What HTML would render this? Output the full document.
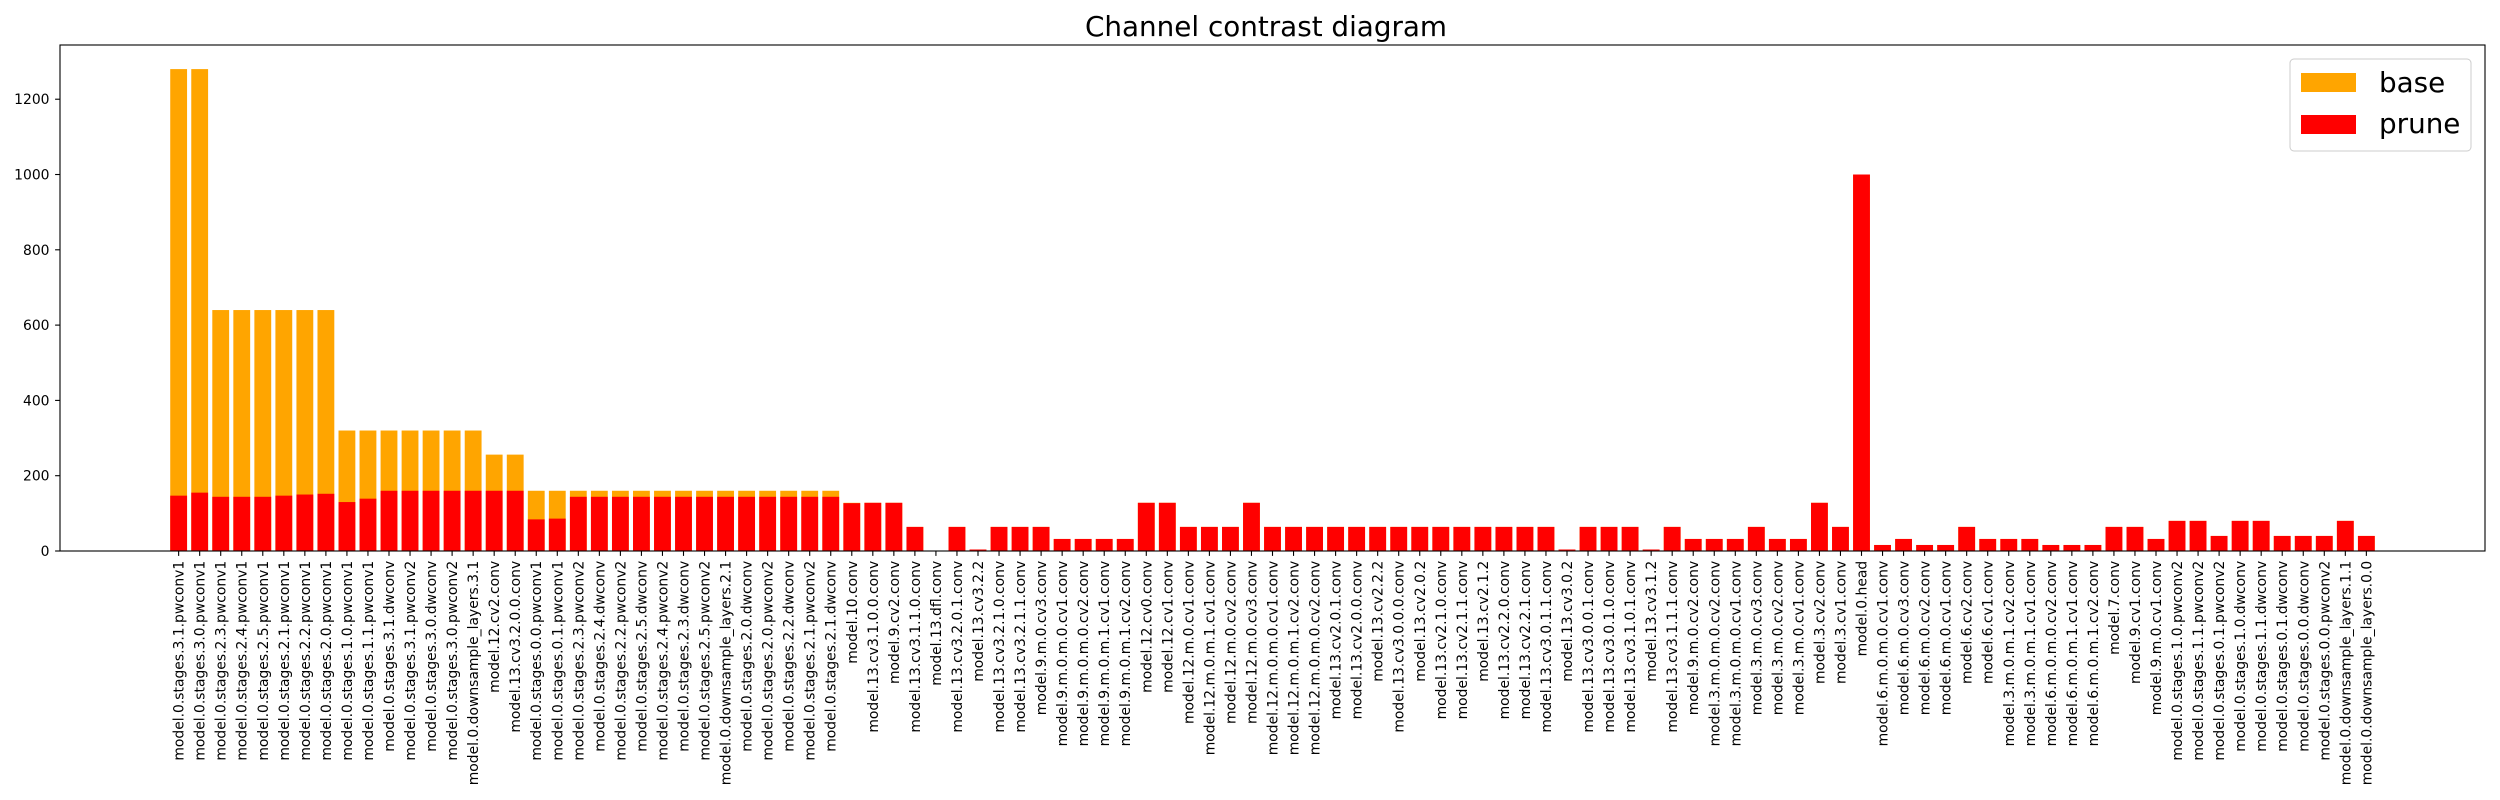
<!DOCTYPE html>
<html><head><meta charset="utf-8"><style>
html,body{margin:0;padding:0;background:#fff;}
svg{display:block;font-family:"DejaVu Sans","Liberation Sans",sans-serif;}
</style></head><body>
<svg id="chart" width="2500" height="800" viewBox="0 0 2500 800" xmlns="http://www.w3.org/2000/svg">
<rect width="2500" height="800" fill="#fff"/>
<text x="1266" y="36" font-size="27.8" text-anchor="middle" fill="#000">Channel contrast diagram</text>
<g id="bars"></g>
<g id="xticks"></g>
<g id="yticks"></g>
<rect x="60" y="45" width="2425" height="506" fill="none" stroke="#000" stroke-width="1.1"/>
<g>
<rect x="2290" y="59" width="181" height="92" rx="4" fill="#fff" fill-opacity="0.8" stroke="#ccc" stroke-width="1"/>
<rect x="2301" y="73" width="55" height="19" fill="#FFA500"/>
<text x="2379" y="92" font-size="27.8" fill="#000">base</text>
<rect x="2301" y="115" width="55" height="19" fill="#FF0000"/>
<text x="2379" y="133" font-size="27.8" fill="#000">prune</text>
</g>
</svg>
<script>
const categories = ["model.0.stages.3.1.pwconv1","model.0.stages.3.0.pwconv1","model.0.stages.2.3.pwconv1","model.0.stages.2.4.pwconv1","model.0.stages.2.5.pwconv1","model.0.stages.2.1.pwconv1","model.0.stages.2.2.pwconv1","model.0.stages.2.0.pwconv1","model.0.stages.1.0.pwconv1","model.0.stages.1.1.pwconv1","model.0.stages.3.1.dwconv","model.0.stages.3.1.pwconv2","model.0.stages.3.0.dwconv","model.0.stages.3.0.pwconv2","model.0.downsample_layers.3.1","model.12.cv2.conv","model.13.cv3.2.0.0.conv","model.0.stages.0.0.pwconv1","model.0.stages.0.1.pwconv1","model.0.stages.2.3.pwconv2","model.0.stages.2.4.dwconv","model.0.stages.2.2.pwconv2","model.0.stages.2.5.dwconv","model.0.stages.2.4.pwconv2","model.0.stages.2.3.dwconv","model.0.stages.2.5.pwconv2","model.0.downsample_layers.2.1","model.0.stages.2.0.dwconv","model.0.stages.2.0.pwconv2","model.0.stages.2.2.dwconv","model.0.stages.2.1.pwconv2","model.0.stages.2.1.dwconv","model.10.conv","model.13.cv3.1.0.0.conv","model.9.cv2.conv","model.13.cv3.1.1.0.conv","model.13.dfl.conv","model.13.cv3.2.0.1.conv","model.13.cv3.2.2","model.13.cv3.2.1.0.conv","model.13.cv3.2.1.1.conv","model.9.m.0.cv3.conv","model.9.m.0.m.0.cv1.conv","model.9.m.0.m.0.cv2.conv","model.9.m.0.m.1.cv1.conv","model.9.m.0.m.1.cv2.conv","model.12.cv0.conv","model.12.cv1.conv","model.12.m.0.cv1.conv","model.12.m.0.m.1.cv1.conv","model.12.m.0.cv2.conv","model.12.m.0.cv3.conv","model.12.m.0.m.0.cv1.conv","model.12.m.0.m.1.cv2.conv","model.12.m.0.m.0.cv2.conv","model.13.cv2.0.1.conv","model.13.cv2.0.0.conv","model.13.cv2.2.2","model.13.cv3.0.0.0.conv","model.13.cv2.0.2","model.13.cv2.1.0.conv","model.13.cv2.1.1.conv","model.13.cv2.1.2","model.13.cv2.2.0.conv","model.13.cv2.2.1.conv","model.13.cv3.0.1.1.conv","model.13.cv3.0.2","model.13.cv3.0.0.1.conv","model.13.cv3.0.1.0.conv","model.13.cv3.1.0.1.conv","model.13.cv3.1.2","model.13.cv3.1.1.1.conv","model.9.m.0.cv2.conv","model.3.m.0.m.0.cv2.conv","model.3.m.0.m.0.cv1.conv","model.3.m.0.cv3.conv","model.3.m.0.cv2.conv","model.3.m.0.cv1.conv","model.3.cv2.conv","model.3.cv1.conv","model.0.head","model.6.m.0.m.0.cv1.conv","model.6.m.0.cv3.conv","model.6.m.0.cv2.conv","model.6.m.0.cv1.conv","model.6.cv2.conv","model.6.cv1.conv","model.3.m.0.m.1.cv2.conv","model.3.m.0.m.1.cv1.conv","model.6.m.0.m.0.cv2.conv","model.6.m.0.m.1.cv1.conv","model.6.m.0.m.1.cv2.conv","model.7.conv","model.9.cv1.conv","model.9.m.0.cv1.conv","model.0.stages.1.0.pwconv2","model.0.stages.1.1.pwconv2","model.0.stages.0.1.pwconv2","model.0.stages.1.0.dwconv","model.0.stages.1.1.dwconv","model.0.stages.0.1.dwconv","model.0.stages.0.0.dwconv","model.0.stages.0.0.pwconv2","model.0.downsample_layers.1.1","model.0.downsample_layers.0.0"];
const baseValues = [1280,1280,640,640,640,640,640,640,320,320,320,320,320,320,320,256,256,160,160,160,160,160,160,160,160,160,160,160,160,160,160,160,128,128,128,64,1,64,4,64,64,64,32,32,32,32,128,128,64,64,64,128,64,64,64,64,64,64,64,64,64,64,64,64,64,64,4,64,64,64,4,64,32,32,32,64,32,32,128,64,1000,16,32,16,16,64,32,32,32,16,16,16,64,64,32,80,80,40,80,80,40,40,40,80,40];
const pruneValues = [147,155,144,144,144,147,150,152,130,139,160,160,160,160,160,160,160,84,86,144,144,144,144,144,144,144,144,144,144,144,144,144,127,128,128,64,1,64,4,64,64,64,32,32,32,32,128,128,64,64,64,128,64,64,64,64,64,64,64,64,64,64,64,64,64,64,4,64,64,64,4,64,32,32,32,64,32,32,128,64,1000,16,32,16,16,64,32,32,32,16,16,16,64,64,32,80,80,40,80,80,40,40,40,80,40];
const yTicks = [0,200,400,600,800,1000,1200];

const NS = "http://www.w3.org/2000/svg";
const L = 60, R = 2485, T = 45, B = 551;
const n = categories.length;
const xMin = -0.4 - 0.05 * (n - 1 + 0.8), xMax = n - 1 + 0.4 + 0.05 * (n - 1 + 0.8);
const yMaxData = Math.max(...baseValues, ...pruneValues);
const yMax = yMaxData * 1.05;
function xScale(v){ return L + (v - xMin) / (xMax - xMin) * (R - L); }
function yScale(v){ return B - v / yMax * (B - T); }
const bw = 0.8 * (R - L) / (xMax - xMin);

const barsG = document.getElementById('bars');
const xG = document.getElementById('xticks');
const yG = document.getElementById('yticks');

function mk(tag, attrs){ const e = document.createElementNS(NS, tag); for (const k in attrs) e.setAttribute(k, attrs[k]); return e; }

categories.forEach((c, i) => {
  const cx = xScale(i);
  const b = mk('rect', {x: cx - bw/2, y: yScale(baseValues[i]), width: bw, height: B - yScale(baseValues[i]), fill: '#FFA500'});
  
  
  barsG.appendChild(b);
  const p = mk('rect', {x: cx - bw/2, y: yScale(pruneValues[i]), width: bw, height: B - yScale(pruneValues[i]), fill: '#FF0000'});
  
  
  barsG.appendChild(p);
  const tk = mk('line', {x1: cx, x2: cx, y1: B, y2: B + 4.9, stroke: '#000', 'stroke-width': 1.1});
  
  
  xG.appendChild(tk);
  const t = mk('text', {x: 0, y: 0, 'font-size': 13.9, 'text-anchor': 'end', transform: 'translate(' + (cx + 5) + ',' + (B + 9.8) + ') rotate(-90)'});
  t.textContent = c;
  
  
  xG.appendChild(t);
});

yTicks.forEach(v => {
  const y = yScale(v);
  const tk = mk('line', {x1: L - 4.9, x2: L, y1: y, y2: y, stroke: '#000', 'stroke-width': 1.1});
  
  
  yG.appendChild(tk);
  const t = mk('text', {x: L - 10.5, y: y + 5, 'font-size': 13.9, 'text-anchor': 'end'});
  t.textContent = v;
  
  
  yG.appendChild(t);
});
</script>
</body></html>
